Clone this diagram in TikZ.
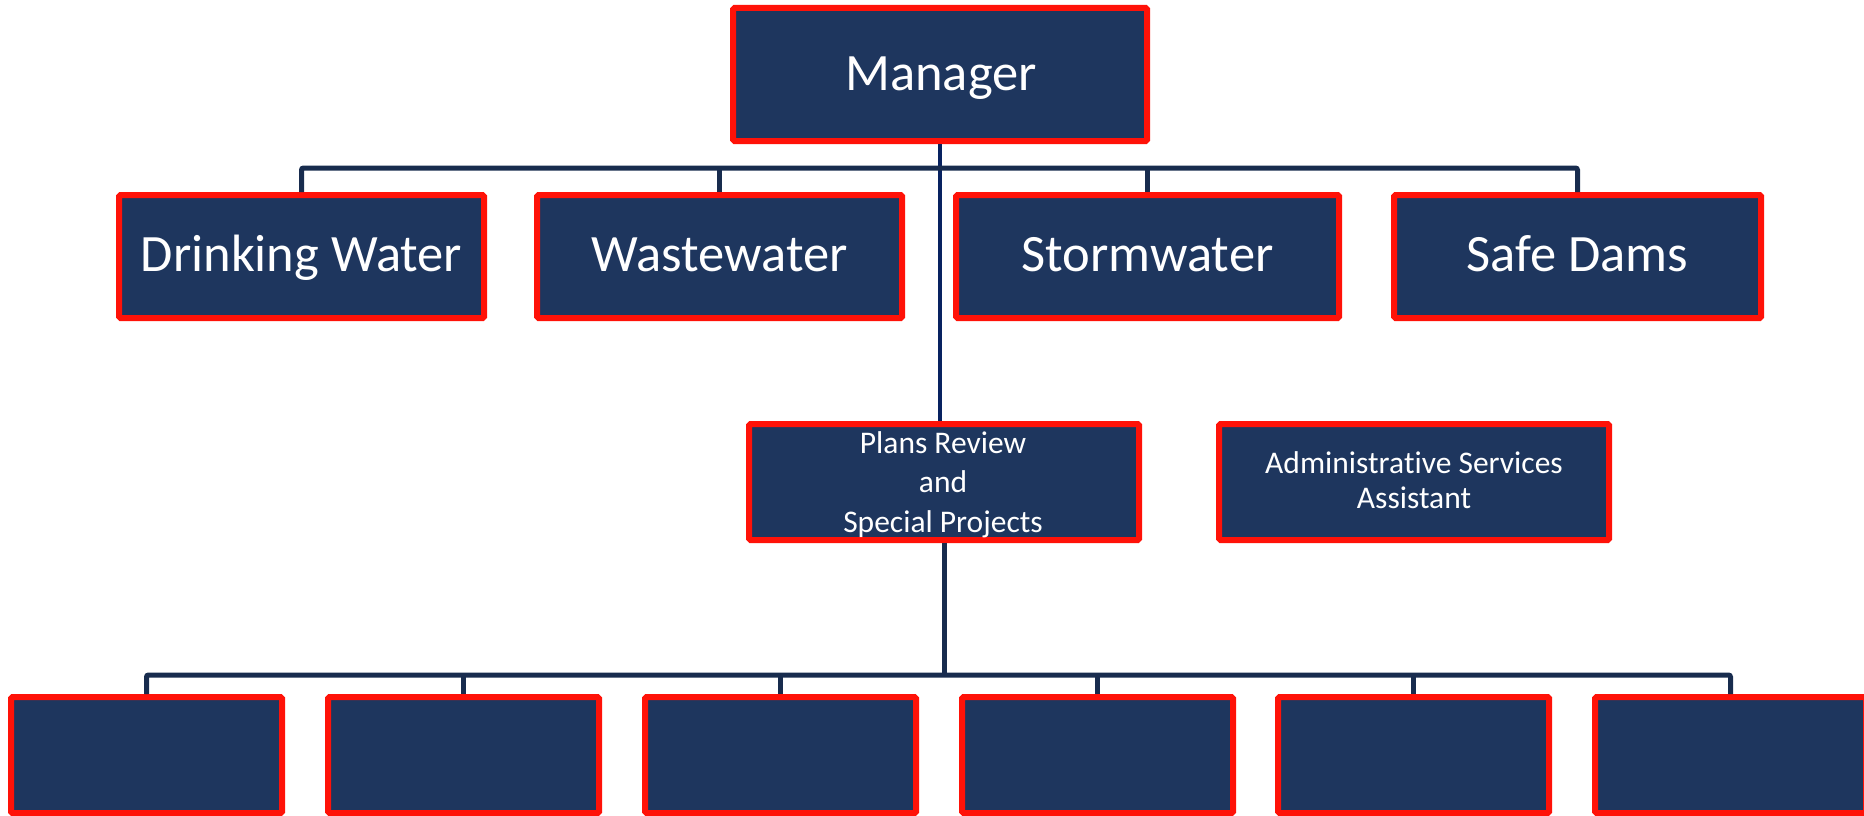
\documentclass[tikz,border=0pt]{standalone}
\usepackage{fontspec}
\setmainfont{Carlito}[Ligatures=NoCommon]
\definecolor{boxfill}{RGB}{30,54,94}
\definecolor{boxred}{RGB}{255,18,8}
\definecolor{busnavy}{RGB}{24,44,78}
\definecolor{mainnavy}{RGB}{8,34,96}
\tikzset{
  orgbox/.style={draw=boxred, fill=boxfill, line width=6pt, inner sep=0pt, rounded corners=1.5pt},
  lbl/.style={text=white, inner sep=0pt, anchor=base},
  bigtxt/.style={font=\fontsize{52.5}{60}\selectfont},
  smalltxt/.style={font=\fontsize{31.5}{38}\selectfont},
  bus/.style={draw=busnavy, line width=5pt, rounded corners=2pt},
  mainline/.style={draw=mainnavy, line width=4.5pt}
}
\begin{document}
\begin{tikzpicture}[x=1pt, y=-1pt]
\useasboundingbox (0,0) rectangle (1864,816);
\coordinate (b1) at (0,168);
\coordinate (b2) at (0,675);
% boxes
\node[orgbox, minimum width=414pt, minimum height=133pt] (mgr) at (940,74.5) {};
\node[orgbox, minimum width=365pt, minimum height=123pt] (dw) at (301.5,256.5) {};
\node[orgbox, minimum width=365pt, minimum height=123pt] (ww) at (719.5,256.5) {};
\node[orgbox, minimum width=383pt, minimum height=123pt] (sw) at (1147.5,256.5) {};
\node[orgbox, minimum width=367pt, minimum height=123pt] (sd) at (1577.5,256.5) {};
\node[orgbox, minimum width=390pt, minimum height=116pt] (pr) at (944,482) {};
\node[orgbox, minimum width=390pt, minimum height=116pt] (as) at (1414,482) {};
\foreach \i/\x in {1/146.5,2/463.5,3/780.5,4/1097.5,5/1413.5,6/1730.5}{
  \node[orgbox, minimum width=271pt, minimum height=116pt] (s\i) at (\x,755) {};
}
% texts
\node[lbl, bigtxt] (mgrT) at (941,90) {Manager};
\node[lbl, bigtxt] (dwT) at (301.5,271) {Drinking Water};
\node[lbl, bigtxt] (wwT) at (719.5,271) {Wastewater};
\node[lbl, bigtxt] (swT) at (1147.5,271) {Stormwater};
\node[lbl, bigtxt] (sdT) at (1577.5,271) {Safe Dams};
\node[lbl, smalltxt] (prT1) at (943,453) {Plans Review};
\node[lbl, smalltxt] (prT2) at (943,492.5) {and};
\node[lbl, smalltxt] (prT3) at (943,532) {Special Projects};
\node[lbl, smalltxt] (asT1) at (1414,473) {Administra\kern0pt tive Services};
\node[lbl, smalltxt] (asT2) at (1414,508) {Assistant};
% connectors
\draw[mainline] (mgr.south) -- (mgr.south |- pr.north);
\draw[bus] (dw.north) -- (dw.north |- b1) -- (sd.north |- b1) -- (sd.north);
\draw[bus] (ww.north |- b1) -- (ww.north);
\draw[bus] (sw.north |- b1) -- (sw.north);
\draw[bus] (pr.south) -- (pr.south |- b2);
\draw[bus] (s1.north) -- (s1.north |- b2) -- (s6.north |- b2) -- (s6.north);
\foreach \i in {2,3,4,5}{
  \draw[bus] (s\i.north |- b2) -- (s\i.north);
}
\end{tikzpicture}
\end{document}
